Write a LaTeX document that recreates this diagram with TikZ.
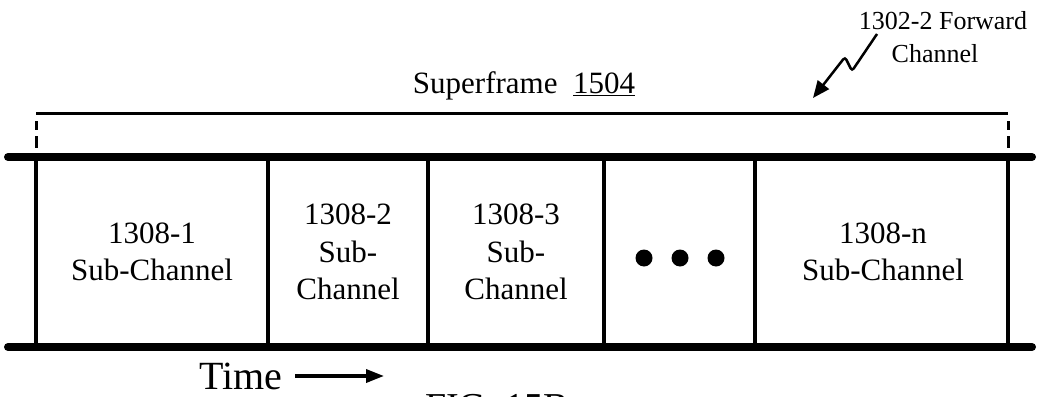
\documentclass[tikz,border=0pt]{standalone}
\usepackage{fontspec}
\setmainfont{Liberation Serif}
\usetikzlibrary{arrows.meta}
\begin{document}
\begin{tikzpicture}[x=1pt,y=-1pt,
  lbl/.style={font=\fontsize{31}{37.5}\selectfont, align=center, inner sep=0pt},
  rail/.style={line width=8pt, line cap=round},
  divider/.style={line width=4.5pt},
  bracketline/.style={line width=3pt},
  dashend/.style={line width=3pt, dash pattern=on 9pt off 6pt on 12pt off 100pt},
  dotmark/.style={circle, fill=black, inner sep=0pt, minimum size=17pt}]
\useasboundingbox (0,0) rectangle (1040,396);

% rails
\coordinate (tl) at (8,157);  \coordinate (tr) at (1032,157);
\coordinate (bl) at (8,347);  \coordinate (br) at (1032,347);
\draw[rail] (tl) -- (tr);
\draw[rail] (bl) -- (br);

% dividers
\foreach \n/\x in {d0/36,d1/268,d2/428,d3/604,d4/755,d5/1008}{
  \coordinate (\n t) at (\x,157);
  \coordinate (\n b) at (\x,347);
  \draw[divider] (\n t) -- (\n b);
}

% sub-channel labels
\node[lbl] (s1) at (152,252) {1308-1\\Sub-Channel};
\node[lbl] (s2) at (348,252) {1308-2\\Sub-\\Channel};
\node[lbl] (s3) at (516,252) {1308-3\\Sub-\\Channel};
\node[lbl] (s5) at (883,252) {1308-n\\Sub-Channel};

% ellipsis dots
\node[dotmark] (e1) at (644,258) {};
\node[dotmark] (e2) at (680,258) {};
\node[dotmark] (e3) at (716,258) {};

% superframe bracket
\coordinate (bkl) at (36,113);
\coordinate (bkr) at (1008,113);
\draw[bracketline] (bkl) -- (bkr);
\coordinate (dl1) at (36,121); \coordinate (dl2) at (36,150);
\coordinate (dr1) at (1008,121); \coordinate (dr2) at (1008,150);
\draw[dashend] (dl1) -- (dl2);
\draw[dashend] (dr1) -- (dr2);
\node[lbl, anchor=base] (sf) at (524,93) {Superframe\ \ \underline{1504}};

% forward channel label
\node[inner sep=0pt, anchor=base, font=\fontsize{26}{31}\selectfont] (fc1) at (943,30) {1302-2 Forward};
\node[inner sep=0pt, anchor=base, font=\fontsize{26}{31}\selectfont] (fc2) at (935,63) {Channel};
\coordinate (sq0) at (877,34);
\coordinate (sq1) at (852,71);
\coordinate (sq2) at (845,57);
\coordinate (sq3) at (813,98);
\draw[line width=2.5pt, rounded corners=3pt, -{Triangle[length=17pt,width=14pt]}] (sq0) -- (sq1) -- (sq2) -- (sq3);

% time arrow
\node[inner sep=0pt, anchor=base west, font=\fontsize{40}{44}\selectfont] (time) at (199,389) {Time};
\coordinate (ta0) at (295,376);
\coordinate (ta1) at (384,376);
\draw[line width=3.5pt, -{Triangle[length=18pt,width=13pt]}] (ta0) -- (ta1);

% figure caption (cut off at bottom, as in the reference)
\node[inner sep=0pt, anchor=base west, font=\fontsize{38}{42}\selectfont] (fig) at (425,419) {FIG. 15B};
\end{tikzpicture}
\end{document}
